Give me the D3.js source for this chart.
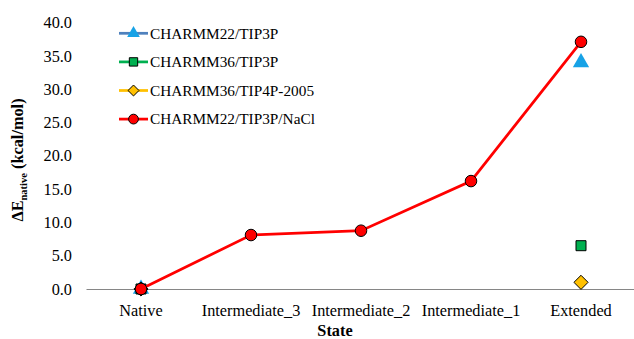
<!DOCTYPE html>
<html>
<head>
<meta charset="utf-8">
<script src="https://cdn.jsdelivr.net/npm/d3@7"></script>
<style>
  body { margin: 0; background: #fff; }
</style>
</head>
<body>
<svg id="chart"></svg>
<script>
// data
const states = ['Native', 'Intermediate_3', 'Intermediate_2', 'Intermediate_1', 'Extended'];
const seriesNames = ['CHARMM22/TIP3P', 'CHARMM36/TIP3P', 'CHARMM36/TIP4P-2005', 'CHARMM22/TIP3P/NaCl'];
const charmm22Tip3p = [0, null, null, null, 34.0];
const charmm36Tip3p = [0, null, null, null, 6.5];
const charmm36Tip4p = [0, null, null, null, 1.0];
const charmm22Nacl = [0, 8.1, 8.75, 16.2, 37.1];
const yTicks = [0, 5, 10, 15, 20, 25, 30, 35, 40];

const FONT = "'Liberation Serif', 'Times New Roman', serif";

// rotated square for the diamond marker
const diamond = {
    draw(ctx, size) {
        const r = Math.sqrt(size / 2);
        ctx.moveTo(0, -r);
        ctx.lineTo(r, 0);
        ctx.lineTo(0, r);
        ctx.lineTo(-r, 0);
        ctx.closePath();
    }
};

const styles = [
    { line: '#4f81bd', fill: '#17a2e6', stroke: 'none', symbol: d3.symbolTriangle, size: 115, legendSize: 70 },
    { line: '#00b050', fill: '#00b050', stroke: '#000', symbol: d3.symbolSquare, size: 100, legendSize: 70 },
    { line: '#ffc000', fill: '#ffc000', stroke: '#000', symbol: diamond, size: 100, legendSize: 60 },
    { line: '#ff0000', fill: '#ff0000', stroke: '#000', symbol: d3.symbolCircle, size: 105, legendSize: 75 }
];
const allSeries = [charmm22Tip3p, charmm36Tip3p, charmm36Tip4p, charmm22Nacl];

const width = 634, height = 339;
const margin = { top: 22.5, right: -2, bottom: 50, left: 86 };

const svg = d3.select('#chart')
    .attr('width', width)
    .attr('height', height)
    .style('font-family', FONT);

const x = d3.scaleBand()
    .domain(states)
    .range([margin.left, width - margin.right]);

const y = d3.scaleLinear()
    .domain([0, 40])
    .range([height - margin.bottom, margin.top]);

// x axis
const xAxisG = svg.append('g')
    .attr('transform', `translate(0,${y(0)})`)
    .call(d3.axisBottom(x).tickSize(0).tickPadding(15));
xAxisG.select('.domain').attr('stroke', '#868686').attr('stroke-width', 1);
xAxisG.selectAll('text').attr('font-size', 16.3).attr('fill', '#000').style('font-family', FONT);

// y axis (labels only)
const yAxisG = svg.append('g')
    .attr('transform', `translate(${margin.left},0)`)
    .call(d3.axisLeft(y).tickValues(yTicks).tickFormat(d3.format('.1f')).tickSize(0).tickPadding(14));
yAxisG.select('.domain').remove();
yAxisG.selectAll('text').attr('font-size', 16.3).attr('fill', '#000').style('font-family', FONT);

// axis titles
svg.append('text')
    .attr('x', 335)
    .attr('y', 336)
    .attr('text-anchor', 'middle')
    .attr('font-weight', 'bold')
    .attr('font-size', 16.3)
    .style('font-family', FONT)
    .text('State');

const yTitle = svg.append('text')
    .attr('transform', 'translate(22.5,160) rotate(-90)')
    .attr('text-anchor', 'middle')
    .attr('font-weight', 'bold')
    .attr('font-size', 16.3)
    .style('font-family', FONT);
yTitle.append('tspan').text('ΔE');
yTitle.append('tspan').attr('font-size', 10.5).attr('dy', 4).text('native');
yTitle.append('tspan').attr('dy', -4).text(' (kcal/mol)');

// lines and markers
const line = d3.line()
    .defined(d => d.v !== null)
    .x(d => x(d.s) + x.bandwidth() / 2)
    .y(d => y(d.v));

allSeries.forEach((vals, i) => {
    const pts = states.map((s, j) => ({ s, v: vals[j] }));
    svg.append('path')
        .datum(pts)
        .attr('fill', 'none')
        .attr('stroke', styles[i].line)
        .attr('stroke-width', 2.75)
        .attr('d', line);
    svg.selectAll(null)
        .data(pts.filter(d => d.v !== null))
        .join('path')
        .attr('transform', d => `translate(${x(d.s) + x.bandwidth() / 2},${y(d.v)})`)
        .attr('d', d3.symbol().type(styles[i].symbol).size(styles[i].size))
        .attr('fill', styles[i].fill)
        .attr('stroke', styles[i].stroke)
        .attr('stroke-width', 1);
});

// legend
const legend = svg.append('g').attr('transform', 'translate(119,33.3)');
seriesNames.forEach((name, i) => {
    const g = legend.append('g').attr('transform', `translate(0,${i * 28.6})`);
    g.append('line').attr('x1', 0).attr('x2', 29).attr('y1', 0).attr('y2', 0)
        .attr('stroke', styles[i].line).attr('stroke-width', 2.75);
    g.append('path')
        .attr('transform', 'translate(14.5,0)')
        .attr('d', d3.symbol().type(styles[i].symbol).size(styles[i].legendSize))
        .attr('fill', styles[i].fill)
        .attr('stroke', styles[i].stroke)
        .attr('stroke-width', 1);
    g.append('text')
        .attr('x', 31)
        .attr('y', 0)
        .attr('dy', '0.35em')
        .attr('font-size', 15.3)
        .style('font-family', FONT)
        .text(name);
});
</script>
</body>
</html>
